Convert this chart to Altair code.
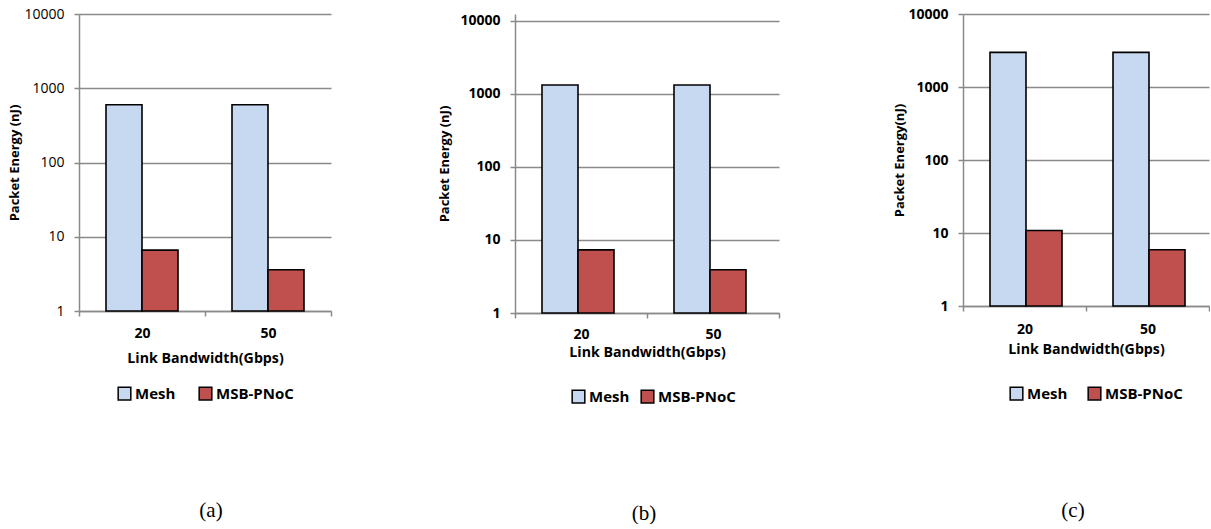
import altair as alt
import pandas as pd

bandwidths = ["20", "50"]
series_names = ["Mesh", "MSB-PNoC"]
series_colors = ["#c6d9f1", "#c0504d"]

mesh_a = [600, 600]
msb_a = [6.6, 3.6]
mesh_b = [1320, 1320]
msb_b = [7.3, 3.9]
mesh_c = [2980, 2980]
msb_c = [10.8, 5.9]

y_ticks = [1, 10, 100, 1000, 10000]
captions = ["(a)", "(b)", "(c)"]
y_titles = ["Packet Energy (nJ)", "Packet Energy (nJ)", "Packet Energy(nJ)"]
x_title = "Link Bandwidth(Gbps)"

FONT = "Open Sans"
GRID = "#8a8a8a"


def make_df(mesh, msb):
    rows = []
    for s, vals in zip(series_names, [mesh, msb]):
        for bw, v in zip(bandwidths, vals):
            rows.append({"bw": bw, "series": s, "value": v})
    return pd.DataFrame(rows)


def panel(mesh, msb, caption, ytitle, width, height, ymax, ylabel_weight,
          x_label_pad, x_title_pad, leg_x, leg_y, col_pad, title_x, cap_dx, cap_offset):
    df = make_df(mesh, msb)
    return alt.Chart(df).mark_bar(stroke="black", strokeWidth=1.6).encode(
        x=alt.X("bw:N", sort=bandwidths,
                scale=alt.Scale(paddingInner=0, paddingOuter=0),
                axis=alt.Axis(title=x_title, labelAngle=0, tickBand="extent", grid=False,
                              domainColor=GRID, tickColor=GRID, tickSize=5,
                              domainWidth=1.5, tickWidth=1.5,
                              labelFont=FONT, labelFontSize=14, labelFontWeight="bold",
                              labelColor="black", labelPadding=x_label_pad,
                              titleFont=FONT, titleFontSize=14.2, titleFontWeight="bold",
                              titleColor="black", titlePadding=x_title_pad)),
        xOffset=alt.XOffset("series:N", sort=series_names,
                            scale=alt.Scale(paddingInner=0, paddingOuter=0.75)),
        y=alt.Y("value:Q",
                scale=alt.Scale(type="log", domain=[1, ymax], nice=False),
                axis=alt.Axis(values=y_ticks, format="d", title=ytitle, grid=True,
                              gridColor=GRID, gridWidth=1.5,
                              domainColor=GRID, tickColor=GRID, tickSize=5,
                              domainWidth=1.5, tickWidth=1.5,
                              labelFont=FONT, labelFontSize=14, labelFontWeight=ylabel_weight,
                              labelColor="black", labelPadding=10,
                              titleFont=FONT, titleFontSize=13, titleFontWeight="bold",
                              titleColor="black", titleAngle=270, titleAlign="center",
                              titleBaseline="middle", titleX=title_x, titleY=height / 2)),
        y2=alt.datum(1),
        color=alt.Color("series:N", sort=series_names,
                        scale=alt.Scale(domain=series_names, range=series_colors),
                        legend=alt.Legend(title=None, orient="none", legendX=leg_x, legendY=leg_y,
                                          direction="horizontal", symbolType="square",
                                          symbolSize=160, symbolStrokeColor="black",
                                          symbolStrokeWidth=1.5, symbolOpacity=1,
                                          labelFont=FONT, labelFontSize=15,
                                          labelFontWeight="bold", labelColor="black",
                                          labelOffset=3, columnPadding=col_pad, padding=0)),
    ).properties(
        width=width, height=height,
        title=alt.TitleParams(text=caption, orient="bottom", anchor="middle", frame="group",
                              font="Liberation Serif", fontSize=21, fontWeight="normal",
                              color="black", offset=cap_offset, dx=cap_dx),
    )


pa = panel(mesh_a, msb_a, captions[0], y_titles[0], 252, 297, 10000, "normal",
           10, 11, 38, 372, 20, -65, 6, 97)
pb = panel(mesh_b, msb_b, captions[1], y_titles[1], 264, 299, 12360, "bold",
           9, 4, 56, 375, 8, -71, -3, 97)
pc = panel(mesh_c, msb_c, captions[2], y_titles[2], 246, 292, 10000, "bold",
           11, 6, 46, 372, 17, -64, -13, 97)

chart = alt.hconcat(pa, pb, pc, spacing=184, bounds="flush").resolve_scale(
    color="independent"
).properties(
    padding={"left": 8, "top": 7, "right": 0, "bottom": 0}
).configure_view(strokeWidth=0)

chart.save("out.html", embed_options={"renderer": "svg", "actions": False})
